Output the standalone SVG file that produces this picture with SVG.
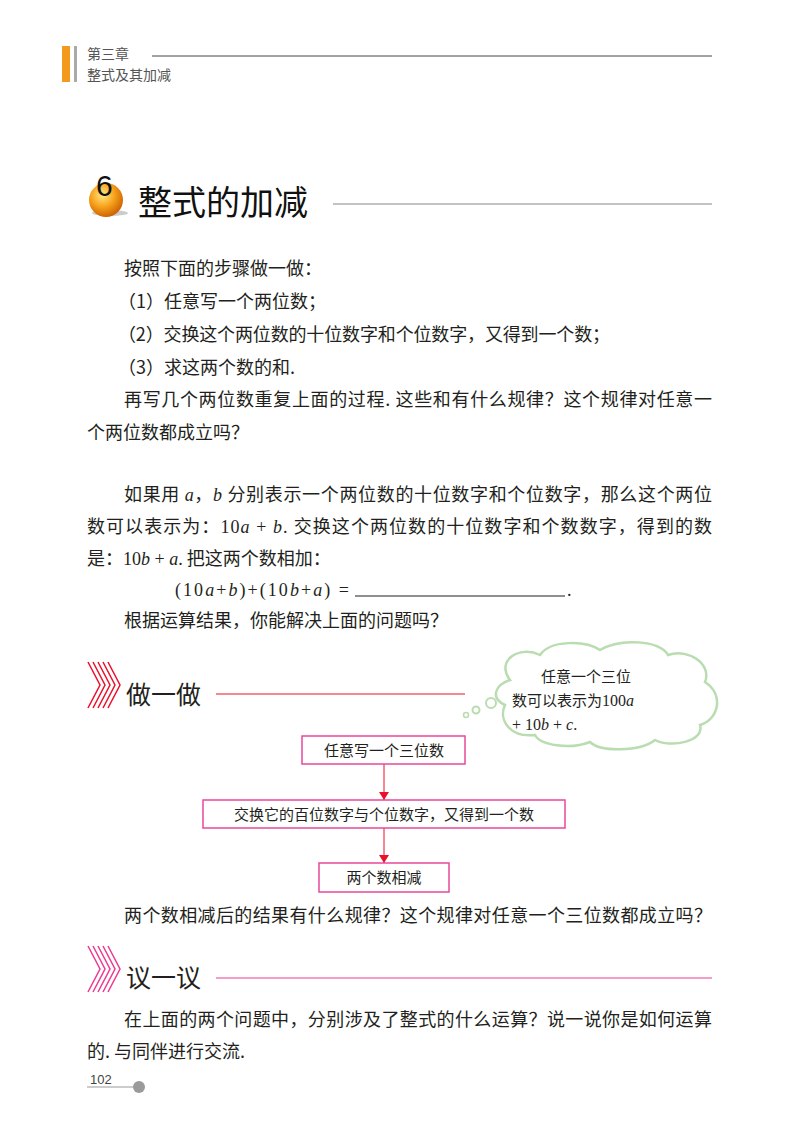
<svg xmlns="http://www.w3.org/2000/svg" width="800" height="1124" viewBox="0 0 800 1124">
<style>
.t{font-family:"Noto Sans CJK SC","Liberation Serif",serif;font-size:18px;fill:#231f20}
.m{font-family:"Liberation Serif",serif;font-size:18px;fill:#231f20}
.i{font-style:italic}
.h{font-family:"Noto Sans CJK SC",sans-serif;font-size:25px;fill:#231f20}
.box{fill:#fff;stroke:#e8489a;stroke-width:1.5}
.bt{font-family:"Noto Sans CJK SC",sans-serif;font-size:15px;fill:#231f20;text-anchor:middle}
</style>
<defs>
<marker id="ah" markerWidth="8" markerHeight="10" refX="8" refY="5" orient="auto" markerUnits="userSpaceOnUse"><path d="M0,0 L8,5 L0,10 Z" fill="#e8102a"/></marker>
<radialGradient id="ball" cx="0.4" cy="0.35" r="0.7"><stop offset="0" stop-color="#ffe98a"/><stop offset="0.5" stop-color="#f7a21b"/><stop offset="1" stop-color="#c85a00"/></radialGradient>
</defs>
<rect width="800" height="1124" fill="#fff"/>
<g id="header">
<rect x="62" y="46" width="8" height="36" fill="#f39a1e"/>
<rect x="74" y="46" width="3" height="36" fill="#aaa"/>
<text x="87" y="59" style="font-family:'Noto Sans CJK SC',sans-serif;font-size:14px;fill:#555">第三章</text>
<text x="87" y="80" style="font-family:'Noto Sans CJK SC',sans-serif;font-size:14px;fill:#555">整式及其加减</text>
<line x1="152" y1="56" x2="712" y2="56" stroke="#444" stroke-width="1"/>
</g>
<g id="title">
<ellipse cx="110" cy="213" rx="18" ry="3" fill="#ccc"/>
<circle cx="106" cy="200" r="17" fill="url(#ball)"/>
<text x="96" y="196" style="font-family:'Liberation Sans',sans-serif;font-size:30px;fill:#111">6</text>
<text x="138" y="215" style="font-family:'Noto Sans CJK SC',serif;font-size:34px;fill:#111">整式的加减</text>
<line x1="333" y1="204" x2="712" y2="204" stroke="#888" stroke-width="1"/>
</g>
<g id="body1">
<text class="t" x="124" y="275">按照下面的步骤做一做：</text>
<text class="t" x="118" y="308">（1）任意写一个两位数；</text>
<text class="t" x="118" y="341" textLength="492">（2）交换这个两位数的十位数字和个位数字，又得到一个数；</text>
<text class="t" x="118" y="374">（3）求这两个数的和.</text>
<text class="t" x="124" y="406" textLength="588">再写几个两位数重复上面的过程. 这些和有什么规律？这个规律对任意一</text>
<text class="t" x="87" y="439">个两位数都成立吗？</text>
<text class="t" x="124" y="501" textLength="588">如果用 <tspan class="m i">a</tspan>，<tspan class="m i">b</tspan> 分别表示一个两位数的十位数字和个位数字，那么这个两位</text>
<text class="t" x="87" y="533" textLength="625">数可以表示为：<tspan class="m">10<tspan class="i">a</tspan> + <tspan class="i">b</tspan>.</tspan> 交换这个两位数的十位数字和个数数字，得到的数</text>
<text class="t" x="87" y="565">是：<tspan class="m">10<tspan class="i">b</tspan> + <tspan class="i">a</tspan>.</tspan> 把这两个数相加：</text>
<text class="m" x="175" y="596" textLength="174">(10<tspan class="i">a</tspan>+<tspan class="i">b</tspan>)+(10<tspan class="i">b</tspan>+<tspan class="i">a</tspan>) =</text>
<line x1="355" y1="596" x2="565" y2="596" stroke="#231f20" stroke-width="1"/>
<text class="m" x="567" y="596">.</text>
<text class="t" x="124" y="627">根据运算结果，你能解决上面的问题吗？</text>
</g>
<g id="zuoyizuo">
<g fill="none" stroke="#e8102a" stroke-width="1.5">
<path d="M88,662 L100,685 L88,708"/><path d="M93,662 L105,685 L93,708"/><path d="M98,662 L110,685 L98,708"/><path d="M103,662 L115,685 L103,708"/><path d="M108,662 L120,685 L108,708"/>
</g>
<text class="h" x="126" y="704">做一做</text>
<line x1="216" y1="694" x2="465" y2="694" stroke="#e8102a" stroke-width="1"/>
</g>
<g id="cloud">
<path d="M510,680 C495,660 520,645 540,655 C550,640 585,640 600,650 C620,638 660,640 668,655 C690,648 712,665 705,682 C725,695 718,720 700,725 C705,742 670,748 655,740 C640,752 600,752 590,742 C570,750 540,745 535,735 C510,738 498,720 505,705 C490,698 495,685 510,680 Z" fill="#fff" stroke="#b9dcb0" stroke-width="2.5"/>
<circle cx="491" cy="703" r="5" fill="#fff" stroke="#b9dcb0" stroke-width="2"/>
<circle cx="476" cy="710" r="3.5" fill="#fff" stroke="#b9dcb0" stroke-width="2"/>
<circle cx="466" cy="715" r="2.5" fill="#fff" stroke="#b9dcb0" stroke-width="1.5"/>
<text x="541" y="682" style="font-family:'Noto Sans CJK SC',sans-serif;font-size:15px;fill:#231f20">任意一个三位</text>
<text x="512" y="706" style="font-family:'Noto Sans CJK SC',sans-serif;font-size:15px;fill:#231f20">数可以表示为<tspan style="font-family:'Liberation Serif',serif;font-size:16px">100<tspan font-style="italic">a</tspan></tspan></text>
<text x="512" y="730" style="font-family:'Liberation Serif',serif;font-size:16px;fill:#231f20">+ 10<tspan font-style="italic">b</tspan> + <tspan font-style="italic">c</tspan>.</text>
</g>
<g id="connectors" stroke="#e8102a" stroke-width="1" marker-end="url(#ah)">
<line x1="384" y1="764" x2="384" y2="800"/>
<line x1="384" y1="828" x2="384" y2="863"/>
</g>
<g id="n1"><rect class="box" x="302" y="736" width="163" height="28"/><text class="bt" x="384" y="756">任意写一个三位数</text></g>
<g id="n2"><rect class="box" x="203" y="800" width="362" height="28"/><text class="bt" x="384" y="820">交换它的百位数字与个位数字，又得到一个数</text></g>
<g id="n3"><rect class="box" x="319" y="863" width="130" height="29"/><text class="bt" x="384" y="883">两个数相减</text></g>
<text class="t" x="124" y="922" textLength="588">两个数相减后的结果有什么规律？这个规律对任意一个三位数都成立吗？</text>
<g id="yiyiyi">
<g fill="none" stroke="#ec3a90" stroke-width="1.5">
<path d="M88,946 L100,969 L88,992"/><path d="M93,946 L105,969 L93,992"/><path d="M98,946 L110,969 L98,992"/><path d="M103,946 L115,969 L103,992"/><path d="M108,946 L120,969 L108,992"/>
</g>
<text class="h" x="126" y="987">议一议</text>
<line x1="216" y1="978" x2="712" y2="978" stroke="#ec3a90" stroke-width="1"/>
</g>
<text class="t" x="124" y="1026" textLength="588">在上面的两个问题中，分别涉及了整式的什么运算？说一说你是如何运算</text>
<text class="t" x="87" y="1058">的. 与同伴进行交流.</text>
<g id="footer">
<text x="90" y="1084" style="font-family:'Liberation Sans',sans-serif;font-size:13px;fill:#444">102</text>
<line x1="87" y1="1087" x2="134" y2="1087" stroke="#999" stroke-width="1"/>
<circle cx="139" cy="1087" r="6" fill="#9a9a9a"/>
</g>
</svg>
